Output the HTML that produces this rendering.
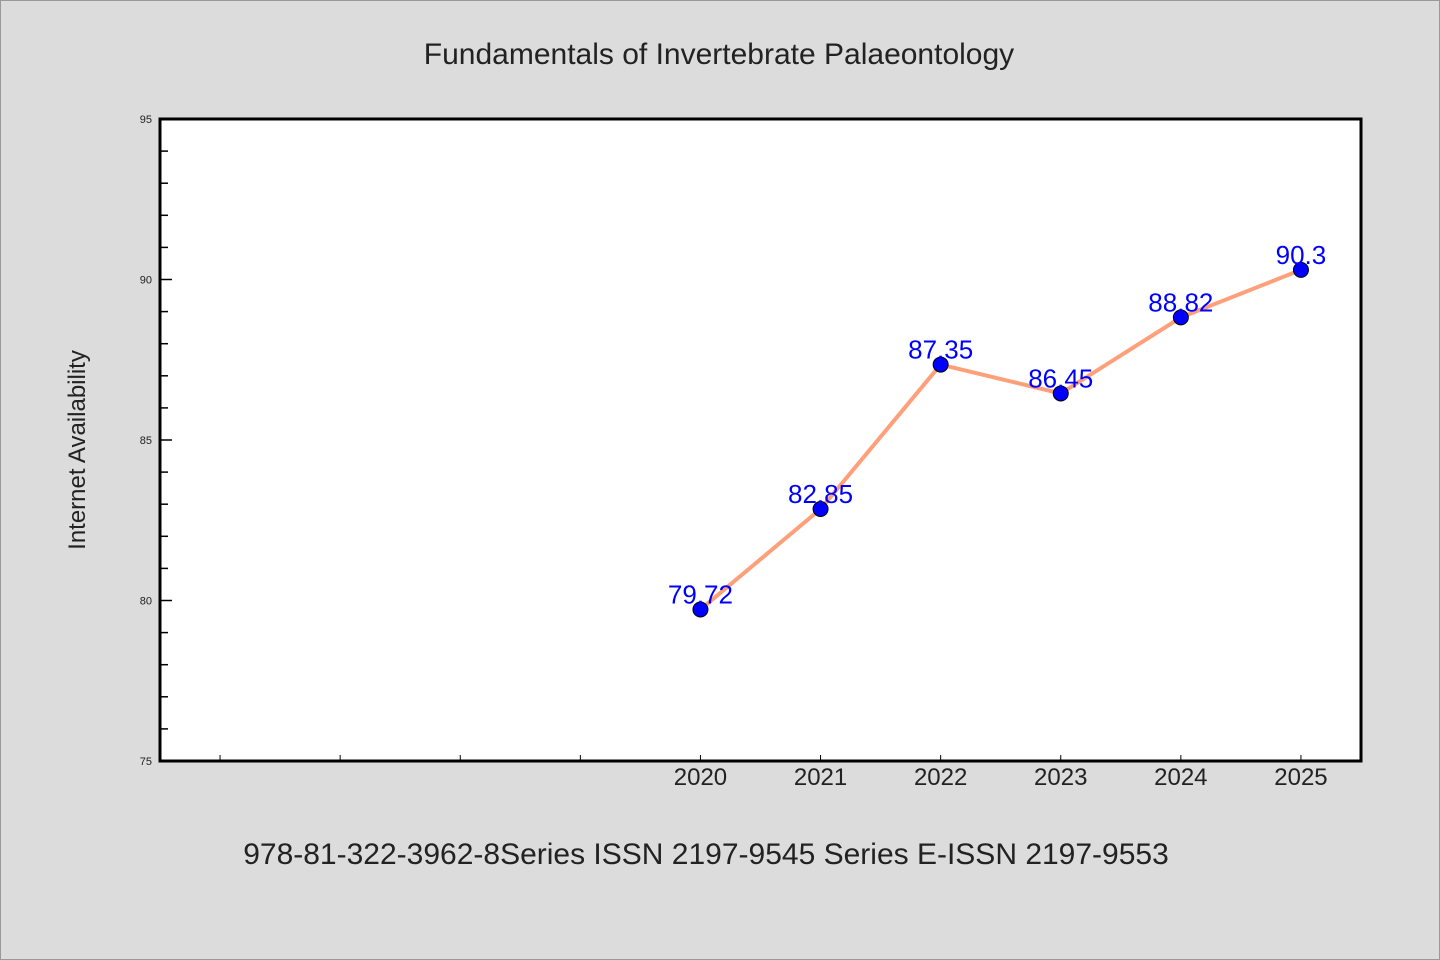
<!DOCTYPE html>
<html><head><meta charset="utf-8"><style>
body{margin:0;background:#dcdcdc;}
svg{display:block;font-family:"WenQuanYi Zen Hei","Liberation Sans",sans-serif;}
</style></head><body>
<svg id="c" width="1440" height="960">
<rect x="0.5" y="0.5" width="1439" height="959" fill="#dcdcdc" stroke="#999"/>
<text x="719" y="64" font-size="30" text-anchor="middle" fill="#222">Fundamentals of Invertebrate Palaeontology</text>
<text transform="translate(85,450) rotate(-90)" font-size="24" text-anchor="middle" fill="#222">Internet Availability</text>
<text x="706" y="864" font-size="30" text-anchor="middle" fill="#222">978-81-322-3962-8Series ISSN 2197-9545 Series E-ISSN 2197-9553</text>
<rect x="160" y="119" width="1201" height="642" fill="#fff"/>
<g id="g"></g>
<rect x="160" y="119" width="1201" height="642" fill="none" stroke="#000" stroke-width="3"/>
</svg>
<script>
const years=[2020,2021,2022,2023,2024,2025];
const values=[79.72,82.85,87.35,86.45,88.82,90.3];
const labels=["79.72","82.85","87.35","86.45","88.82","90.3"];
const yTicks=[75,80,85,90,95];
const L=160,R=1361,T=119,B=761,x0=2015.5,x1=2025.5,y0=75,y1=95;
const X=v=>L+(v-x0)/(x1-x0)*(R-L);
const Y=v=>B-(v-y0)/(y1-y0)*(B-T);
const g=document.getElementById('g');
const NS='http://www.w3.org/2000/svg';
function mk(t,a){const e=document.createElementNS(NS,t);for(const k in a)e.setAttribute(k,a[k]);g.appendChild(e);return e;}
for(let v=y0;v<=y1;v++){
 const major=(v%5===0);
 const l=mk('line',{x1:L,x2:L+(major?12:8),y1:Y(v),y2:Y(v),stroke:'#000','stroke-width':1.5});
 
 
}
yTicks.forEach(v=>{const t=mk('text',{x:L-8,y:Y(v)+4,'font-size':11,'text-anchor':'end',fill:'#222'});t.textContent=v;
 
 });
for(let yr=2016;yr<=2025;yr++){
 const l=mk('line',{x1:X(yr),x2:X(yr),y1:B,y2:B-6,stroke:'#000','stroke-width':1});
 
 
}
years.forEach(yr=>{const t=mk('text',{x:X(yr),y:B+24,'font-size':24,'text-anchor':'middle',fill:'#222'});t.textContent=yr;
 
 });
const line=mk('polyline',{points:years.map((yr,i)=>X(yr)+','+Y(values[i])).join(' '),fill:'none',stroke:'#ffa07a','stroke-width':4});


years.forEach((yr,i)=>{
 const c=mk('circle',{cx:X(yr),cy:Y(values[i]),r:7.5,fill:'#0000ff',stroke:'#000','stroke-width':1});
 
 
});
years.forEach((yr,i)=>{
 const t=mk('text',{x:X(yr),y:Y(values[i])-6,'font-size':26,'text-anchor':'middle',fill:'#0000ff'});t.textContent=labels[i];
 
 
});
</script>
</body></html>
